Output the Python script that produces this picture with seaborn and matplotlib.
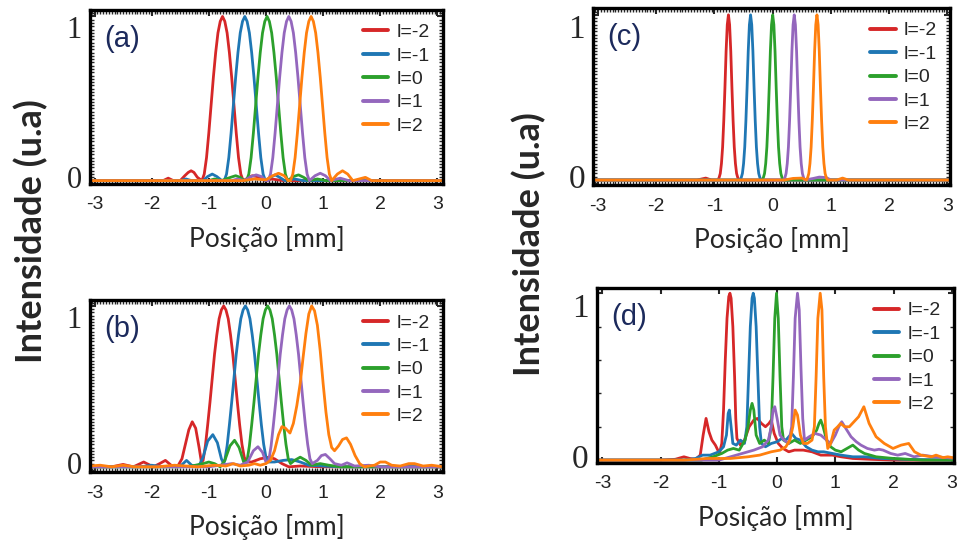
import pandas as pd
import matplotlib
matplotlib.use("Agg")
import matplotlib.pyplot as plt
import seaborn as sns
from matplotlib.ticker import MultipleLocator

# legend labels and colours
labels = ["l=-2", "l=-1", "l=0", "l=1", "l=2"]
colors = ["#d62728", "#1f77b4", "#2ca02c", "#9467bd", "#ff7f0e"]

# ---- panel (a): (posicao, intensidade) ----
a_m2 = [(-3.1, 0), (-1.9, 0), (-1.8, 0), (-1.71, 0.015), (-1.62, 0), (-1.5, 0), (-1.42, 0.03), (-1.36, 0.05),
        (-1.31, 0.06), (-1.26, 0.05), (-1.2, 0.02), (-1.12, 0), (-1.08, 0.04), (-1.04, 0.14), (-1.0, 0.29),
        (-0.96, 0.46), (-0.92, 0.63), (-0.88, 0.78), (-0.84, 0.9), (-0.8, 0.97), (-0.76, 1.0), (-0.72, 0.97),
        (-0.68, 0.9), (-0.64, 0.78), (-0.6, 0.63), (-0.56, 0.46), (-0.52, 0.29), (-0.48, 0.14), (-0.44, 0.04),
        (-0.4, 0), (-0.32, 0.015), (-0.24, 0.03), (-0.16, 0.025), (-0.08, 0.01), (0.0, 0), (0.1, 0.01),
        (0.3, 0), (3.1, 0)]
a_m1 = [(-3.1, 0), (-1.5, 0), (-1.4, 0.01), (-1.3, 0), (-1.1, 0), (-1.02, 0.025), (-0.94, 0.04), (-0.86, 0.025),
        (-0.77, 0), (-0.73, 0), (-0.69, 0.04), (-0.65, 0.14), (-0.61, 0.29), (-0.57, 0.46), (-0.53, 0.63),
        (-0.49, 0.78), (-0.45, 0.9), (-0.41, 0.97), (-0.37, 1.0), (-0.33, 0.97), (-0.29, 0.9), (-0.25, 0.78),
        (-0.21, 0.63), (-0.17, 0.46), (-0.13, 0.29), (-0.09, 0.14), (-0.05, 0.04), (-0.01, 0), (0.08, 0.02),
        (0.16, 0.035), (0.24, 0.02), (0.33, 0), (0.5, 0.01), (0.65, 0), (3.1, 0)]
a_0 = [(-3.1, 0), (-1.0, 0), (-0.9, 0.01), (-0.78, 0), (-0.62, 0.02), (-0.53, 0.03), (-0.45, 0.02), (-0.38, 0),
       (-0.34, 0), (-0.3, 0.04), (-0.26, 0.14), (-0.22, 0.29), (-0.18, 0.46), (-0.14, 0.63), (-0.1, 0.78),
       (-0.06, 0.9), (-0.02, 0.97), (0.02, 1.0), (0.06, 0.97), (0.1, 0.9), (0.14, 0.78), (0.18, 0.63),
       (0.22, 0.46), (0.26, 0.29), (0.3, 0.14), (0.34, 0.04), (0.38, 0), (0.48, 0.025), (0.57, 0.035),
       (0.66, 0.02), (0.75, 0), (0.9, 0.01), (1.05, 0), (3.1, 0)]
a_p1 = [(-3.1, 0), (-0.6, 0), (-0.5, 0.01), (-0.38, 0), (-0.26, 0.025), (-0.17, 0.035), (-0.08, 0.025), (0.0, 0),
        (0.04, 0), (0.08, 0.04), (0.12, 0.14), (0.16, 0.29), (0.2, 0.46), (0.24, 0.63), (0.28, 0.78),
        (0.32, 0.9), (0.36, 0.97), (0.4, 1.0), (0.44, 0.97), (0.48, 0.9), (0.52, 0.78), (0.56, 0.63),
        (0.6, 0.46), (0.64, 0.29), (0.68, 0.14), (0.72, 0.04), (0.76, 0), (0.86, 0.03), (0.95, 0.045),
        (1.04, 0.03), (1.13, 0), (1.3, 0.015), (1.45, 0), (3.1, 0)]
a_p2 = [(-3.1, 0), (-0.4, 0), (-0.2, 0.01), (0.0, 0.005), (0.12, 0.03), (0.22, 0.045), (0.32, 0.03), (0.39, 0),
        (0.43, 0), (0.47, 0.04), (0.51, 0.14), (0.55, 0.29), (0.59, 0.46), (0.63, 0.63), (0.67, 0.78),
        (0.71, 0.9), (0.75, 0.97), (0.79, 1.0), (0.83, 0.97), (0.87, 0.9), (0.91, 0.78), (0.95, 0.63),
        (0.99, 0.46), (1.03, 0.29), (1.07, 0.14), (1.11, 0.04), (1.15, 0), (1.25, 0.04), (1.34, 0.06),
        (1.43, 0.04), (1.52, 0), (1.63, 0.01), (1.74, 0.02), (1.85, 0), (3.1, 0)]

# ---- panel (b) ----
b_m2 = [(-3.1, 0), (-2.7, 0), (-2.5, 0.015), (-2.32, 0), (-2.14, 0.03), (-1.97, 0), (-1.86, 0.02), (-1.76, 0.04),
        (-1.66, 0.01), (-1.55, 0), (-1.47, 0.05), (-1.41, 0.14), (-1.35, 0.23), (-1.29, 0.28), (-1.23, 0.24),
        (-1.17, 0.12), (-1.13, 0.03), (-1.1, 0.04), (-1.06, 0.13), (-1.02, 0.26), (-0.98, 0.4), (-0.94, 0.55),
        (-0.9, 0.7), (-0.86, 0.82), (-0.82, 0.92), (-0.78, 0.975), (-0.74, 1.0), (-0.7, 0.975), (-0.66, 0.92),
        (-0.62, 0.82), (-0.58, 0.7), (-0.54, 0.55), (-0.5, 0.4), (-0.46, 0.26), (-0.42, 0.14), (-0.38, 0.06),
        (-0.34, 0.03), (-0.25, 0.03), (-0.1, 0.05), (0.05, 0.06), (0.15, 0.05), (0.28, 0.02), (0.4, 0),
        (0.6, 0.005), (1.0, 0), (3.1, 0)]
b_m1 = [(-3.1, 0), (-2.2, 0), (-2.0, 0.01), (-1.8, 0), (-1.6, 0.005), (-1.48, 0.01), (-1.39, 0.04), (-1.3, 0.01),
        (-1.18, 0), (-1.1, 0.06), (-1.02, 0.16), (-0.93, 0.2), (-0.85, 0.15), (-0.78, 0.05), (-0.74, 0.02),
        (-0.72, 0.04), (-0.68, 0.13), (-0.64, 0.26), (-0.6, 0.4), (-0.56, 0.55), (-0.52, 0.7), (-0.48, 0.82),
        (-0.44, 0.92), (-0.4, 0.975), (-0.36, 1.0), (-0.32, 0.975), (-0.28, 0.92), (-0.24, 0.82), (-0.2, 0.7),
        (-0.16, 0.55), (-0.12, 0.4), (-0.08, 0.26), (-0.04, 0.14), (0.0, 0.06), (0.04, 0.03), (0.15, 0.03),
        (0.3, 0.04), (0.45, 0.045), (0.6, 0.03), (0.75, 0.01), (1.0, 0.005), (1.3, 0), (3.1, 0)]
b_0 = [(-3.1, 0), (-1.5, 0), (-1.3, 0.005), (-1.1, 0.02), (-1.0, 0.03), (-0.9, 0.02), (-0.8, 0), (-0.72, 0.04),
       (-0.63, 0.13), (-0.55, 0.165), (-0.47, 0.12), (-0.39, 0.03), (-0.33, 0.04), (-0.29, 0.13), (-0.25, 0.26),
       (-0.21, 0.4), (-0.17, 0.55), (-0.13, 0.7), (-0.09, 0.82), (-0.05, 0.92), (-0.01, 0.975), (0.03, 1.0),
       (0.07, 0.975), (0.11, 0.92), (0.15, 0.82), (0.19, 0.7), (0.23, 0.55), (0.27, 0.4), (0.31, 0.26),
       (0.35, 0.14), (0.39, 0.05), (0.43, 0.02), (0.5, 0.04), (0.6, 0.06), (0.7, 0.04), (0.8, 0.01),
       (0.95, 0.02), (1.1, 0.01), (1.3, 0), (3.1, 0)]
b_p1 = [(-3.1, 0), (-1.0, 0), (-0.8, 0.01), (-0.6, 0.02), (-0.45, 0.01), (-0.32, 0.03), (-0.22, 0.1), (-0.14, 0.125),
        (-0.06, 0.09), (0.0, 0.03), (0.05, 0.04), (0.09, 0.13), (0.13, 0.26), (0.17, 0.4), (0.21, 0.55),
        (0.25, 0.7), (0.29, 0.82), (0.33, 0.92), (0.37, 0.975), (0.41, 1.0), (0.45, 0.975), (0.49, 0.92),
        (0.53, 0.82), (0.57, 0.7), (0.61, 0.55), (0.65, 0.4), (0.69, 0.26), (0.73, 0.14), (0.77, 0.05),
        (0.81, 0.02), (0.9, 0.04), (0.97, 0.07), (1.04, 0.077), (1.12, 0.05), (1.2, 0.02), (1.32, 0.01),
        (1.42, 0.025), (1.55, 0.005), (1.8, 0.01), (2.0, 0), (3.1, 0)]
b_p2 = [(-3.1, 0.005), (-2.9, 0.01), (-2.7, 0), (-2.5, 0.01), (-2.3, 0), (-1.9, 0), (-1.6, 0.01), (-1.2, 0),
        (-0.9, 0.01), (-0.7, 0.005), (-0.57, 0.02), (-0.45, 0.005), (-0.3, 0.01), (-0.2, 0.02), (-0.1, 0.01),
        (0.0, 0.02), (0.08, 0.04), (0.15, 0.1), (0.22, 0.2), (0.28, 0.25), (0.34, 0.24), (0.42, 0.21),
        (0.48, 0.27), (0.54, 0.38), (0.6, 0.52), (0.65, 0.68), (0.7, 0.83), (0.75, 0.95), (0.8, 1.0),
        (0.85, 0.97), (0.9, 0.88), (0.95, 0.72), (1.0, 0.52), (1.05, 0.34), (1.1, 0.2), (1.15, 0.12),
        (1.2, 0.1), (1.27, 0.13), (1.34, 0.17), (1.41, 0.18), (1.48, 0.14), (1.56, 0.07), (1.64, 0.02),
        (1.72, 0), (1.9, 0.01), (2.0, 0.03), (2.09, 0.03), (2.2, 0.01), (2.35, 0.005), (2.5, 0.02),
        (2.6, 0.02), (2.75, 0.005), (2.9, 0.01), (3.1, 0)]

# ---- panel (c) ----
c_m2 = [(-3.1, 0), (-1.3, 0), (-1.15, 0.012), (-1.05, 0), (-0.94, 0), (-0.92, 0.015), (-0.9, 0.04), (-0.88, 0.1),
        (-0.86, 0.2), (-0.84, 0.36), (-0.82, 0.56), (-0.8, 0.78), (-0.78, 0.94), (-0.76, 1.0), (-0.74, 0.94),
        (-0.72, 0.78), (-0.7, 0.56), (-0.68, 0.36), (-0.66, 0.2), (-0.64, 0.1), (-0.62, 0.04), (-0.6, 0.015),
        (-0.58, 0), (3.1, 0)]
c_m1 = [(-3.1, 0), (-0.56, 0), (-0.54, 0.015), (-0.52, 0.04), (-0.5, 0.1), (-0.48, 0.2), (-0.46, 0.36),
        (-0.44, 0.56), (-0.42, 0.78), (-0.4, 0.94), (-0.38, 1.0), (-0.36, 0.94), (-0.34, 0.78), (-0.32, 0.56),
        (-0.3, 0.36), (-0.28, 0.2), (-0.26, 0.1), (-0.24, 0.04), (-0.22, 0.015), (-0.2, 0), (3.1, 0)]
c_0 = [(-3.1, 0), (-0.18, 0), (-0.16, 0.015), (-0.14, 0.04), (-0.12, 0.1), (-0.1, 0.2), (-0.08, 0.36),
       (-0.06, 0.56), (-0.04, 0.78), (-0.02, 0.94), (0.0, 1.0), (0.02, 0.94), (0.04, 0.78), (0.06, 0.56),
       (0.08, 0.36), (0.1, 0.2), (0.12, 0.1), (0.14, 0.04), (0.16, 0.015), (0.18, 0), (3.1, 0)]
c_p1 = [(-3.1, 0), (0.19, 0), (0.21, 0.015), (0.23, 0.04), (0.25, 0.1), (0.27, 0.2), (0.29, 0.36), (0.31, 0.56),
        (0.33, 0.78), (0.35, 0.94), (0.37, 1.0), (0.39, 0.94), (0.41, 0.78), (0.43, 0.56), (0.45, 0.36),
        (0.47, 0.2), (0.49, 0.1), (0.51, 0.04), (0.53, 0.015), (0.55, 0), (0.7, 0.01), (0.8, 0.018),
        (0.92, 0.015), (1.0, 0), (3.1, 0)]
c_p2 = [(-3.1, 0), (0.2, 0), (0.35, 0.01), (0.5, 0.012), (0.58, 0), (0.6, 0.015), (0.62, 0.04), (0.64, 0.1),
        (0.66, 0.2), (0.68, 0.36), (0.7, 0.56), (0.72, 0.78), (0.74, 0.94), (0.76, 1.0), (0.78, 0.94),
        (0.8, 0.78), (0.82, 0.56), (0.84, 0.36), (0.86, 0.2), (0.88, 0.1), (0.9, 0.04), (0.92, 0.015),
        (0.94, 0), (1.1, 0), (1.2, 0.012), (1.3, 0), (3.1, 0)]

# ---- panel (d) ----
d_m2 = [(-3.1, 0), (-2.0, 0), (-1.75, 0.005), (-1.6, 0.02), (-1.5, 0.01), (-1.4, 0.005), (-1.32, 0.03),
        (-1.27, 0.15), (-1.22, 0.25), (-1.17, 0.17), (-1.12, 0.12), (-1.06, 0.09), (-0.99, 0.04), (-0.95, 0.1),
        (-0.92, 0.3), (-0.89, 0.6), (-0.86, 0.85), (-0.83, 0.98), (-0.81, 1.0), (-0.79, 0.97), (-0.76, 0.8),
        (-0.73, 0.5), (-0.71, 0.25), (-0.69, 0.13), (-0.63, 0.09), (-0.56, 0.12), (-0.48, 0.2), (-0.4, 0.24),
        (-0.34, 0.25), (-0.27, 0.22), (-0.2, 0.2), (-0.14, 0.22), (-0.1, 0.24), (-0.05, 0.16), (0.02, 0.1),
        (0.1, 0.07), (0.2, 0.05), (0.3, 0.06), (0.45, 0.06), (0.6, 0.05), (0.75, 0.03), (0.95, 0.03),
        (1.1, 0.02), (1.3, 0.01), (1.6, 0.005), (2.0, 0), (3.1, 0)]
d_m1 = [(-3.1, 0), (-1.6, 0), (-1.4, 0.01), (-1.28, 0.03), (-1.15, 0.03), (-1.0, 0.05), (-0.92, 0.08),
        (-0.87, 0.15), (-0.84, 0.28), (-0.82, 0.3), (-0.79, 0.2), (-0.76, 0.1), (-0.7, 0.09), (-0.63, 0.12),
        (-0.56, 0.1), (-0.52, 0.2), (-0.49, 0.5), (-0.46, 0.8), (-0.43, 0.97), (-0.41, 1.0), (-0.39, 0.97),
        (-0.36, 0.8), (-0.33, 0.5), (-0.3, 0.2), (-0.27, 0.1), (-0.2, 0.08), (-0.1, 0.1), (0.0, 0.11),
        (0.08, 0.13), (0.15, 0.12), (0.25, 0.16), (0.32, 0.13), (0.4, 0.12), (0.5, 0.08), (0.6, 0.06),
        (0.7, 0.05), (0.8, 0.05), (0.95, 0.04), (1.1, 0.03), (1.3, 0.02), (1.5, 0.02), (1.8, 0.01),
        (2.2, 0.005), (3.1, 0)]
d_0 = [(-3.1, 0), (-1.3, 0), (-1.1, 0.02), (-0.95, 0.04), (-0.85, 0.06), (-0.75, 0.07), (-0.65, 0.06),
       (-0.55, 0.12), (-0.5, 0.2), (-0.46, 0.3), (-0.43, 0.34), (-0.4, 0.3), (-0.36, 0.15), (-0.3, 0.1),
       (-0.22, 0.12), (-0.15, 0.1), (-0.1, 0.2), (-0.07, 0.5), (-0.04, 0.85), (-0.01, 1.0), (0.02, 0.85),
       (0.05, 0.5), (0.08, 0.2), (0.11, 0.12), (0.2, 0.1), (0.3, 0.12), (0.4, 0.1), (0.5, 0.12), (0.6, 0.14),
       (0.68, 0.18), (0.72, 0.22), (0.75, 0.24), (0.79, 0.2), (0.85, 0.12), (0.92, 0.08), (1.0, 0.06),
       (1.1, 0.05), (1.2, 0.07), (1.3, 0.09), (1.4, 0.06), (1.5, 0.04), (1.7, 0.02), (2.0, 0.01), (2.5, 0),
       (3.1, 0)]
d_p1 = [(-3.1, 0), (-1.0, 0), (-0.8, 0.02), (-0.6, 0.04), (-0.4, 0.06), (-0.25, 0.08), (-0.15, 0.12), (-0.1, 0.2),
        (-0.07, 0.3), (-0.04, 0.32), (0.0, 0.25), (0.05, 0.15), (0.12, 0.12), (0.2, 0.1), (0.25, 0.2),
        (0.28, 0.5), (0.31, 0.85), (0.35, 1.0), (0.38, 0.9), (0.41, 0.55), (0.44, 0.25), (0.47, 0.12),
        (0.55, 0.14), (0.65, 0.16), (0.75, 0.15), (0.85, 0.12), (0.92, 0.1), (1.0, 0.15), (1.06, 0.2),
        (1.11, 0.23), (1.18, 0.19), (1.27, 0.14), (1.36, 0.11), (1.44, 0.09), (1.55, 0.07), (1.67, 0.06),
        (1.75, 0.065), (1.82, 0.06), (1.95, 0.04), (2.07, 0.03), (2.2, 0.04), (2.35, 0.02), (2.5, 0.03),
        (2.7, 0.02), (3.1, 0.01)]
d_p2 = [(-3.1, 0), (-1.6, 0), (-1.2, 0.01), (-0.8, 0.01), (-0.5, 0.02), (-0.3, 0.03), (-0.1, 0.05), (0.05, 0.06),
        (0.15, 0.08), (0.22, 0.12), (0.27, 0.2), (0.31, 0.3), (0.35, 0.27), (0.4, 0.15), (0.45, 0.1),
        (0.52, 0.1), (0.6, 0.12), (0.64, 0.2), (0.67, 0.5), (0.7, 0.85), (0.74, 1.0), (0.77, 0.9), (0.8, 0.5),
        (0.83, 0.2), (0.87, 0.07), (0.92, 0.1), (0.98, 0.18), (1.04, 0.2), (1.09, 0.22), (1.16, 0.2),
        (1.24, 0.2), (1.32, 0.23), (1.4, 0.26), (1.49, 0.32), (1.58, 0.22), (1.7, 0.14), (1.84, 0.1),
        (1.99, 0.07), (2.13, 0.09), (2.26, 0.1), (2.36, 0.05), (2.47, 0.03), (2.65, 0.02), (2.73, 0.03),
        (2.85, 0.015), (2.93, 0.02), (3.1, 0.01)]


def panel_frame(curves):
    rows = []
    for lab, pts in zip(labels, curves):
        for x, y in pts:
            rows.append({"pos": x, "inten": y, "l": lab})
    return pd.DataFrame(rows)


sns.set_theme(style="white")
plt.rcParams["font.family"] = ["Liberation Sans", "DejaVu Sans"]

fig = plt.figure(figsize=(9.57, 5.49), dpi=100)

panels = [
    ("(a)", [a_m2, a_m1, a_0, a_p1, a_p2], [0.094, 0.665, 0.369, 0.317], (-3.08, 3.1), (-0.02, 1.04), "left"),
    ("(b)", [b_m2, b_m1, b_0, b_p1, b_p2], [0.094, 0.140, 0.369, 0.313], (-3.08, 3.1), (-0.033, 1.035), "left"),
    ("(c)", [c_m2, c_m1, c_0, c_p1, c_p2], [0.620, 0.663, 0.373, 0.322], (-3.08, 3.05), (-0.03, 1.04), "right"),
    ("(d)", [d_m2, d_m1, d_0, d_p1, d_p2], [0.624, 0.157, 0.373, 0.318], (-3.09, 3.04), (-0.016, 1.03), "right"),
]

for tag, curves, rect, xl, yl, side in panels:
    ax = fig.add_axes(rect)
    df = panel_frame(curves)
    sns.lineplot(data=df, x="pos", y="inten", hue="l", hue_order=labels, palette=colors,
                 estimator=None, errorbar=None, linewidth=2.0, ax=ax)
    ax.set_xlim(*xl)
    ax.set_ylim(*yl)

    # frame
    for sp in ax.spines.values():
        sp.set_visible(True)
        sp.set_color("black")
        sp.set_linewidth(2.4)

    ax.set_xticks([-3, -2, -1, 0, 1, 2, 3])
    ax.set_xticklabels(["-3", "-2", "-1", "0", "1", "2", "3"])
    ax.set_yticks([0, 1])
    ax.set_yticklabels(["0", "1"])
    if tag == "(d)":
        ax.yaxis.set_minor_locator(MultipleLocator(0.2))
    else:
        ax.xaxis.set_minor_locator(MultipleLocator(0.05))
        ax.yaxis.set_minor_locator(MultipleLocator(0.02))
    ax.tick_params(which="both", direction="in", top=True, right=True, bottom=True, left=True)
    ax.tick_params(which="major", length=4, width=1.5)
    ax.tick_params(which="minor", length=3, width=1.0)
    ax.tick_params(axis="x", labelsize=14, labelcolor="#222222", pad=9)
    ysize = 22 if side == "left" else 24
    ax.tick_params(axis="y", labelsize=ysize, pad=6)
    for t in ax.get_yticklabels():
        t.set_fontfamily("Liberation Serif")
    ylabs = ax.get_yticklabels()
    ylabs[0].set_va("center")
    ylabs[1].set_va("top")

    ax.set_xlabel("Posição [mm]", family="Lato", fontsize=19, labelpad=9)
    ax.set_ylabel("")

    ax.text(0.04, 0.915, tag, transform=ax.transAxes, fontsize=21, color="#1c2a5c",
            ha="left", va="top")

    handles, labs = ax.get_legend_handles_labels()
    leg = ax.legend(handles, labs, loc="upper right", frameon=False, fontsize=14,
                    handlelength=1.3, handletextpad=0.4, labelspacing=0.3,
                    borderpad=0.3, borderaxespad=0.4)
    for h in leg.get_lines():
        h.set_linewidth(2.8)

fig.text(0.032, 0.58, "Intensidade (u.a)", rotation=90, ha="center", va="center",
         family="Lato", weight="bold", fontsize=26)
fig.text(0.553, 0.555, "Intensidade (u.a)", rotation=90, ha="center", va="center",
         family="Lato", weight="bold", fontsize=26)

fig.savefig("out.png", dpi=100)
